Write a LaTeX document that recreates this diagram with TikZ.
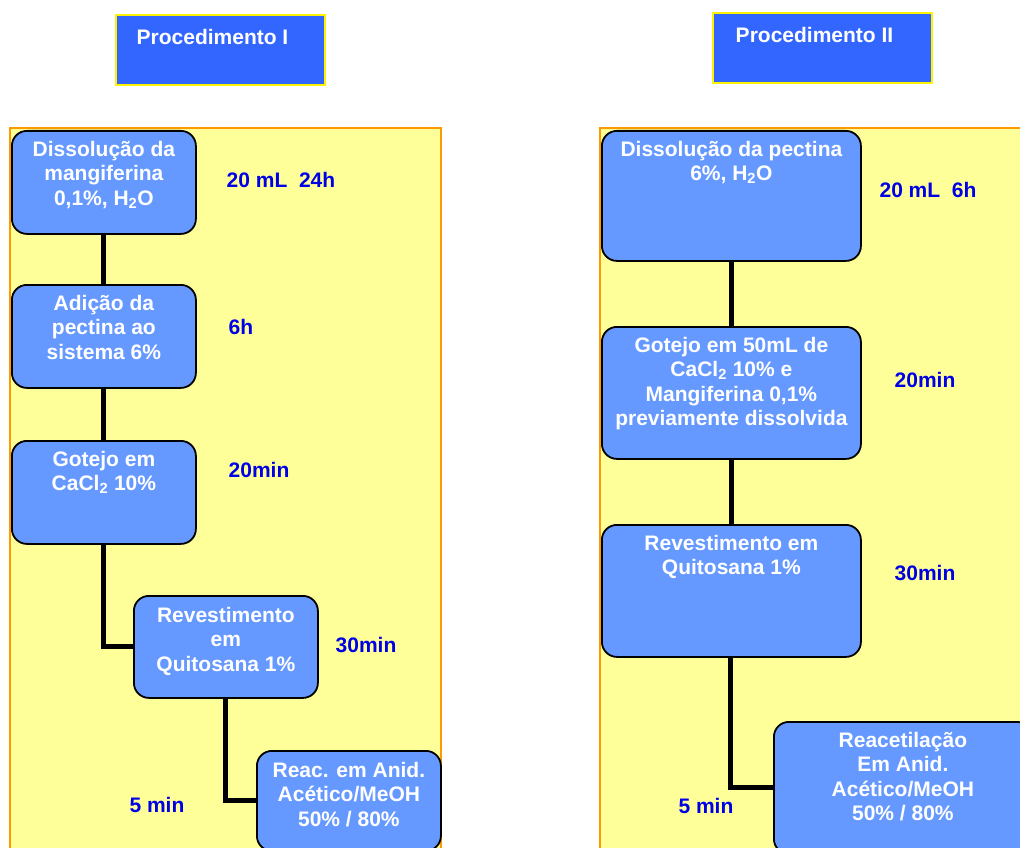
\documentclass[tikz,border=0pt]{standalone}
\usepackage{fontspec}
\setmainfont{Liberation Sans}
\definecolor{titleblue}{HTML}{3366FF}
\definecolor{boxblue}{HTML}{6699FF}
\definecolor{panelyellow}{HTML}{FFFF99}
\definecolor{panelorange}{HTML}{FF9900}
\definecolor{labelblue}{HTML}{0000E6}
\newcommand{\boxtext}[4]{\parbox[c][#2pt][t]{#1pt}{\centering\vspace*{#3pt}#4\par}}
\tikzset{
  titlebox/.style={draw=yellow, line width=2pt, fill=titleblue, inner sep=0pt, anchor=north west, text=white,
    font=\fontsize{21}{24.5}\selectfont\bfseries},
  stepbox/.style={draw=black, line width=1.8pt, fill=boxblue, rounded corners=15pt, inner sep=0pt, anchor=north west,
    text=white, font=\fontsize{21}{24.5}\selectfont\bfseries},
  panel/.style={fill=panelyellow, draw=panelorange, line width=1.5pt},
  link/.style={draw=black, line width=5pt},
  timelabel/.style={text=labelblue, font=\fontsize{21}{24.5}\selectfont\bfseries, inner sep=0pt}
}
\begin{document}
\begin{tikzpicture}[x=1pt,y=-1pt]
\useasboundingbox (0,0) rectangle (1020,848);
\clip (0,0) rectangle (1020,848);
\fill[white] (0,0) rectangle (1020,848);
% panels
\path[panel] (10,128) rectangle (441,870);
\path[panel] (600,128) rectangle (1040,870);
% titles
\node[titlebox] (t1) at (115,14) {\boxtext{209}{70}{14}{Procedimento I\kern16pt}};
\node[titlebox] (t2) at (712,12) {\boxtext{219}{70}{14}{Procedimento II\kern16pt}};
% left column
\node[stepbox] (l1) at (11,130) {\boxtext{184}{103}{10}{Dissolução da\\mangiferina\\0,1\%, H\textsubscript{2}O}};
\node[stepbox] (l2) at (11,284) {\boxtext{184}{103}{10}{Adição da\\pectina ao\\sistema 6\%}};
\node[stepbox] (l3) at (11,440) {\boxtext{184}{103}{10}{Gotejo em\\CaCl\textsubscript{2} 10\%}};
\node[stepbox] (l4) at (133,595) {\boxtext{184}{102}{11}{Revestimento\\em\\Quitosana 1\%}};
\node[stepbox] (l5) at (256,750) {\boxtext{184}{100}{11}{Reac. em Anid.\\Acético/MeOH\\50\% / 80\%}};
% right column
\node[stepbox] (r1) at (601,130) {\boxtext{259}{130}{10}{Dissolução da pectina\\6\%, H\textsubscript{2}O}};
\node[stepbox] (r2) at (601,326) {\boxtext{259}{132}{10}{Gotejo em 50mL de\\CaCl\textsubscript{2} 10\% e\\Mangiferina 0,1\%\\previamente dissolvida}};
\node[stepbox] (r3) at (601,524) {\boxtext{259}{132}{10}{Revestimento em\\Quitosana 1\%}};
\node[stepbox] (r4) at (773,721) {\boxtext{258}{132}{10}{Reacetilação\\Em Anid.\\Acético/MeOH\\50\% / 80\%}};
% connectors
\draw[link] (l1.south) -- (l2.north);
\draw[link] (l2.south) -- (l3.north);
\draw[link] (l3.south) |- (l4.west);
\draw[link] (l4.south) |- (l5.west);
\draw[link] (r1.south) -- (r2.north);
\draw[link] (r2.south) -- (r3.north);
\draw[link] ([xshift=-0.5pt]r3.south) |- (r4.west);
% time labels
\node[timelabel] (a1) at (281,180) {20 mL\ \ 24h};
\node[timelabel] (a2) at (241,327) {6h};
\node[timelabel] (a3) at (259,470) {20min};
\node[timelabel] (a4) at (366,645) {30min};
\node[timelabel] (a5) at (157,805) {5 min};
\node[timelabel] (b1) at (928,190) {20 mL\ \ 6h};
\node[timelabel] (b2) at (925,380) {20min};
\node[timelabel] (b3) at (925,573) {30min};
\node[timelabel] (b4) at (706,806) {5 min};
\end{tikzpicture}
\end{document}
